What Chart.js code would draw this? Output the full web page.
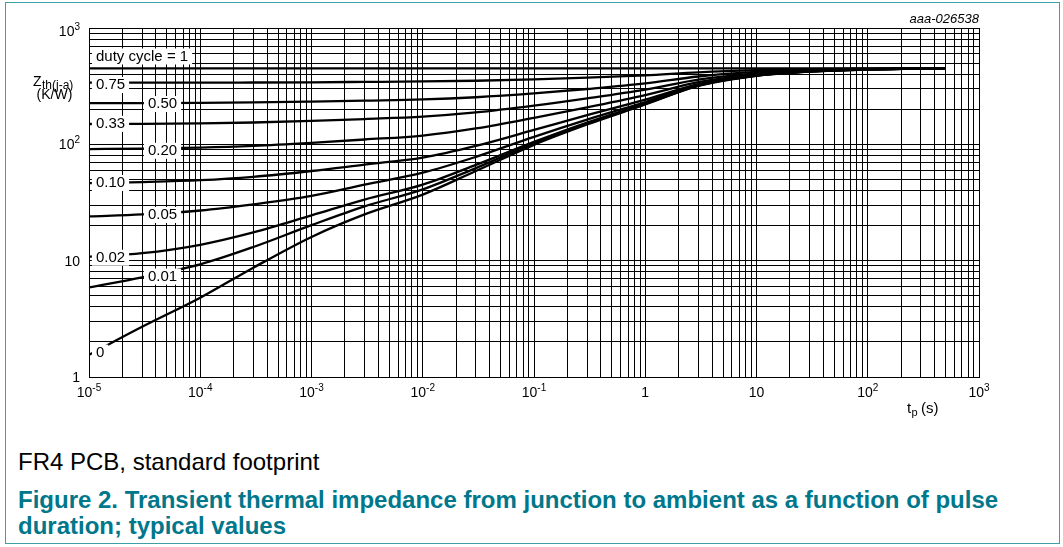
<!DOCTYPE html>
<html>
<head>
<meta charset="utf-8">
<script src="https://cdn.jsdelivr.net/npm/chart.js@4.4.1/dist/chart.umd.min.js"></script>
<style>
  html, body { margin: 0; padding: 0; background: #fff; }
  body { width: 1063px; height: 547px; position: relative; overflow: hidden; font-family: "Liberation Sans", Arial, sans-serif; }
  #frame { position: absolute; left: 5px; top: 2px; width: 1055px; height: 542px; border: 1px solid #3f9fa6; box-sizing: border-box; }
  #wrap { position: absolute; left: 0; top: 0; width: 1063px; height: 430px; }
  #note { position: absolute; left: 18px; top: 448px; font-size: 24px; line-height: 28px; color: #000; }
  #caption { position: absolute; left: 18px; top: 487px; font-size: 24px; line-height: 26px; font-weight: bold; color: #00778b; }
</style>
</head>
<body>
<div id="frame"></div>
<div id="wrap"><canvas id="zthChart"></canvas></div>
<div id="note">FR4 PCB, standard footprint</div>
<div id="caption">Figure 2. Transient thermal impedance from junction to ambient as a function of pulse<br>duration; typical values</div>
<script>
// pulse duration tp (s)
const tp = [1e-5, 3e-5, 1e-4, 3e-4, 1e-3, 3e-3, 1e-2, 3e-2, 1e-1, 3e-1, 1, 3, 10, 30, 100, 500];

// Zth(j-a) in K/W, one array per duty cycle
const zth100 = [450, 450, 450, 450, 450, 450, 450, 450, 450, 450, 450, 450, 450, 450, 450, 450];
const zth075 = [339, 339, 339, 340, 341.5, 344, 347, 352, 362, 374, 392, 416, 434, 443, 447, 450];
const zth050 = [226, 226, 227, 229, 233, 237.5, 243, 254, 274, 299, 334, 383, 419, 436, 445, 450];
const zth033 = [149.5, 150, 151.5, 154, 159, 165, 173, 188, 215, 248, 295, 360, 408, 431, 443, 450];
const zth020 = [91, 92, 93.8, 97, 103, 110, 119, 137, 169, 208, 265, 343, 400, 428, 442, 450];
const zth010 = [46.4, 47.4, 49.2, 52.6, 59, 67, 77, 97, 133, 178, 242, 330, 394, 425, 441, 450];
const zth005 = [24, 25, 27, 30.5, 36, 45, 57, 78, 116, 163, 231, 324, 391, 423, 441, 450];
const zth002 = [10.8, 11.6, 13.7, 17.5, 24.5, 33.5, 45, 66.5, 105, 154, 224, 320, 389, 423, 440, 450];
const zth001 = [5.9, 7.2, 9.3, 13.1, 20.2, 29.3, 41, 62.5, 102, 151, 222, 319, 389, 422, 440, 450];
const zth000 = [1.55, 2.7, 4.8, 8.7, 16, 25, 37, 59, 99, 148, 220, 318, 388, 422, 440, 450];

const seriesList = [zth100, zth075, zth050, zth033, zth020, zth010, zth005, zth002, zth001, zth000];

// labels sitting on the curves (text, tp, Zth)
const curveLabels = ['duty cycle = 1', '0.75', '0.50', '0.33', '0.20', '0.10', '0.05', '0.02', '0.01', '0'];
const curveLabelT = [3e-5, 1.56e-5, 4.58e-5, 1.56e-5, 4.58e-5, 1.56e-5, 4.58e-5, 1.56e-5, 4.58e-5, 1.26e-5];
const curveLabelZ = [569, 324, 222, 150, 88, 46.5, 24.7, 10.6, 7.3, 1.62];

// axis tick labels ('^' marks an exponent)
const xTickValues = [1e-5, 1e-4, 1e-3, 1e-2, 1e-1, 1, 10, 100, 1000];
const xTickLabels = ['10^-5', '10^-4', '10^-3', '10^-2', '10^-1', '1', '10', '10^2', '10^3'];
const yTickValues = [1, 10, 100, 1000];
const yTickLabels = ['1', '10', '10^2', '10^3'];

const FONT = '"Liberation Sans", Arial, sans-serif';

function logGrid(fromExp, toExp) {
    const vals = [];
    for (let e = fromExp; e < toExp; e++) {
        for (let m = 1; m <= 9; m++) {
            vals.push(Number((m * Math.pow(10, e)).toPrecision(3)));
        }
    }
    vals.push(Math.pow(10, toExp));
    return vals.map(v => ({value: v}));
}

// draws "10" with a raised exponent; align is 'center' or 'right'
function drawPower(ctx, label, x, y, align) {
    const parts = label.split('^');
    ctx.font = '14px ' + FONT;
    const wBase = ctx.measureText(parts[0]).width;
    ctx.font = '10px ' + FONT;
    const wExp = parts[1] ? ctx.measureText(parts[1]).width : 0;
    const total = wBase + wExp;
    let left = align === 'right' ? x - total : x - total / 2;
    ctx.textAlign = 'left';
    ctx.textBaseline = 'alphabetic';
    ctx.font = '14px ' + FONT;
    ctx.fillText(parts[0], left, y);
    if (parts[1]) {
        ctx.font = '10px ' + FONT;
        ctx.fillText(parts[1], left + wBase, y - 6);
    }
}

const textPlugin = {
    id: 'zthTexts',
    afterDatasetsDraw(chart) {
        const ctx = chart.ctx;
        const xs = chart.scales.x;
        const ys = chart.scales.y;
        ctx.save();

        // curve labels with white boxes
        ctx.font = '15px ' + FONT;
        curveLabels.forEach(function (txt, i) {
            const px = xs.getPixelForValue(curveLabelT[i]);
            const py = ys.getPixelForValue(curveLabelZ[i]);
            const w = ctx.measureText(txt).width;
            ctx.fillStyle = '#fff';
            ctx.fillRect(px - w / 2 - 4, py - 8, w + 8, 16);
            ctx.fillStyle = '#000';
            ctx.textAlign = 'center';
            ctx.textBaseline = 'middle';
            ctx.fillText(txt, px, py);
        });

        // tick labels
        ctx.fillStyle = '#000';
        xTickValues.forEach(function (v, i) {
            drawPower(ctx, xTickLabels[i], xs.getPixelForValue(v), chart.chartArea.bottom + 20, 'center');
        });
        yTickValues.forEach(function (v, i) {
            const py = ys.getPixelForValue(v) + (i === yTickValues.length - 1 ? 8 : 5);
            drawPower(ctx, yTickLabels[i], chart.chartArea.left - 9, py, 'right');
        });

        // y axis title
        ctx.textAlign = 'left';
        ctx.textBaseline = 'alphabetic';
        ctx.font = '14px ' + FONT;
        ctx.fillText('Z', 33, 86);
        ctx.font = '12px ' + FONT;
        ctx.fillText('th(j-a)', 42, 88.5);
        ctx.font = '14px ' + FONT;
        ctx.textAlign = 'center';
        ctx.fillText('(K/W)', 54.5, 99);

        // x axis title
        ctx.textAlign = 'left';
        ctx.font = '15px ' + FONT;
        ctx.fillText('t', 907, 413);
        ctx.font = '11px ' + FONT;
        ctx.fillText('p', 911.5, 416);
        ctx.font = '15px ' + FONT;
        ctx.fillText('(s)', 921, 413);

        // figure code
        ctx.font = 'italic 13px ' + FONT;
        ctx.textAlign = 'right';
        ctx.fillText('aaa-026538', chart.chartArea.right, 23);

        ctx.restore();
    }
};

document.addEventListener('DOMContentLoaded', function () {
    const canvas = document.getElementById('zthChart');
    const ctx = canvas.getContext('2d');

    const datasets = seriesList.map(function (vals) {
        return {
            data: tp.map((t, i) => ({x: t, y: vals[i]})),
            borderColor: '#000',
            borderWidth: 2.3,
            pointRadius: 0,
            fill: false,
            cubicInterpolationMode: 'monotone'
        };
    });

    const gridStyle = {color: '#000', lineWidth: 1, drawTicks: false};

    new Chart(ctx, {
        type: 'line',
        data: {datasets: datasets},
        options: {
            responsive: true,
            maintainAspectRatio: false,
            animation: false,
            layout: {padding: {left: 89, right: 84, top: 28, bottom: 53}},
            plugins: {legend: {display: false}, tooltip: {enabled: false}},
            scales: {
                x: {
                    type: 'logarithmic',
                    min: 1e-5,
                    max: 1000,
                    afterBuildTicks: function (scale) { scale.ticks = logGrid(-5, 3); },
                    ticks: {display: false},
                    grid: gridStyle,
                    border: {color: '#000', width: 1}
                },
                y: {
                    type: 'logarithmic',
                    min: 1,
                    max: 1000,
                    afterBuildTicks: function (scale) { scale.ticks = logGrid(0, 3); },
                    ticks: {display: false},
                    grid: gridStyle,
                    border: {color: '#000', width: 1}
                }
            }
        },
        plugins: [textPlugin]
    });
});
</script>
</body>
</html>
